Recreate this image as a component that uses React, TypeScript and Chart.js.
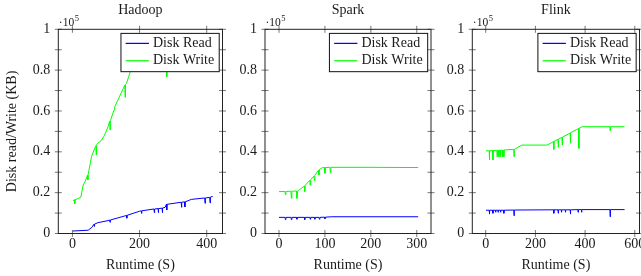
import React, { useEffect, useRef } from 'react';
import { Chart, registerables } from 'chart.js';

Chart.register(...registerables);

// ---------------- data (values in units of 10^5 KB) ----------------
const panelTitles = ['Hadoop', 'Spark', 'Flink'];
const seriesLabels = ['Disk Read', 'Disk Write'];
const yAxisTitle = 'Disk read/Write (KB)';
const xAxisTitle = 'Runtime (S)';
const yExponentBase = '·10';
const yExponentPower = '5';

const yTickValues = [0, 0.2, 0.4, 0.6, 0.8, 1];
const yTickLabels = ['0', '0.2', '0.4', '0.6', '0.8', '1'];
const yMinorTickValues = [0.1, 0.3, 0.5, 0.7, 0.9];

const hadoopXTickValues = [0, 200, 400];
const hadoopXTickLabels = ['0', '200', '400'];
const sparkXTickValues = [0, 100, 200, 300];
const sparkXTickLabels = ['0', '100', '200', '300'];
const flinkXTickValues = [0, 200, 400, 600];
const flinkXTickLabels = ['0', '200', '400', '600'];

// [runtime (s), value]
const hadoopRead: [number, number][] = [
  [0, 0.012], [47, 0.016], [58, 0.03], [64, 0.045], [65, 0.035], [66, 0.046], [76, 0.053],
  [106, 0.063], [111, 0.066], [112, 0.055], [113, 0.066], [156, 0.086], [161, 0.088], [162, 0.075],
  [163, 0.089], [200, 0.109], [205, 0.111], [206, 0.098], [207, 0.111], [243, 0.12], [244, 0.102],
  [245, 0.12], [255, 0.122], [256, 0.102], [257, 0.122], [267, 0.124], [268, 0.102], [269, 0.125],
  [276, 0.128], [280, 0.143], [281, 0.115], [282, 0.143], [324, 0.153], [325, 0.128], [326, 0.153],
  [334, 0.155], [335, 0.13], [336, 0.155], [354, 0.167], [394, 0.174], [395, 0.148], [396, 0.174],
  [409, 0.177], [410, 0.15], [411, 0.178], [418, 0.182],
];
const hadoopWrite: [number, number][] = [
  [2, 0.16], [6, 0.165], [7, 0.145], [8, 0.166], [15, 0.17], [25, 0.177], [32, 0.237], [38, 0.255],
  [45, 0.286], [46, 0.262], [47, 0.29], [57, 0.376], [67, 0.42], [70, 0.43], [71, 0.384], [72, 0.432],
  [74, 0.44], [86, 0.455], [96, 0.482], [106, 0.523], [111, 0.55], [112, 0.507], [113, 0.552],
  [124, 0.605], [126, 0.62], [141, 0.673], [156, 0.727], [157, 0.667], [158, 0.729], [161, 0.735],
  [174, 0.8], [190, 0.86], [210, 0.9], [250, 0.91], [280, 0.92], [281, 0.768], [282, 0.92],
  [330, 0.93], [380, 0.94], [420, 0.95],
];

const sparkRead: [number, number][] = [
  [0, 0.079], [13, 0.079], [14, 0.068], [15, 0.079], [26, 0.079], [27, 0.068], [28, 0.079],
  [38, 0.079], [39, 0.07], [40, 0.079], [55, 0.079], [56, 0.068], [57, 0.079], [67, 0.079],
  [68, 0.07], [69, 0.079], [77, 0.079], [78, 0.07], [79, 0.079], [87, 0.079], [88, 0.07],
  [89, 0.079], [99, 0.08], [100, 0.072], [101, 0.08], [115, 0.082], [303, 0.082],
];
const sparkWrite: [number, number][] = [
  [0, 0.205], [13, 0.206], [14, 0.19], [15, 0.206], [26, 0.207], [27, 0.172], [28, 0.207],
  [38, 0.208], [39, 0.172], [40, 0.208], [42, 0.21], [55, 0.232], [56, 0.205], [57, 0.236],
  [67, 0.26], [68, 0.237], [69, 0.264], [76, 0.281], [77, 0.259], [78, 0.285], [86, 0.31],
  [87, 0.286], [88, 0.313], [94, 0.322], [99, 0.323], [100, 0.295], [101, 0.323], [111, 0.324],
  [112, 0.298], [113, 0.324], [200, 0.324], [303, 0.323],
];

const flinkRead: [number, number][] = [
  [1, 0.114], [14, 0.114], [15, 0.095], [16, 0.114], [28, 0.114], [29, 0.099], [30, 0.114],
  [39, 0.114], [40, 0.104], [41, 0.114], [49, 0.114], [50, 0.104], [51, 0.114], [59, 0.114],
  [60, 0.104], [61, 0.114], [72, 0.114], [73, 0.099], [74, 0.114], [113, 0.115], [114, 0.087],
  [115, 0.115], [273, 0.116], [274, 0.099], [275, 0.116], [291, 0.116], [292, 0.099], [293, 0.116],
  [304, 0.116], [305, 0.104], [306, 0.116], [320, 0.116], [321, 0.104], [322, 0.116], [340, 0.116],
  [341, 0.095], [342, 0.116], [371, 0.117], [372, 0.104], [373, 0.117], [385, 0.117], [386, 0.104],
  [387, 0.117], [500, 0.117], [501, 0.082], [502, 0.117], [559, 0.117],
];
const flinkWrite: [number, number][] = [
  [1, 0.405], [14, 0.405], [15, 0.36], [16, 0.405], [28, 0.406], [29, 0.36], [30, 0.406],
  [45, 0.407], [46, 0.376], [47, 0.407], [52, 0.407], [53, 0.376], [54, 0.407], [59, 0.408],
  [60, 0.376], [61, 0.408], [66, 0.408], [67, 0.376], [68, 0.408], [72, 0.408], [73, 0.376],
  [74, 0.409], [113, 0.412], [114, 0.376], [115, 0.412], [146, 0.433], [247, 0.433], [273, 0.45],
  [274, 0.412], [275, 0.451], [291, 0.461], [292, 0.422], [293, 0.462], [307, 0.471], [308, 0.433],
  [309, 0.472], [340, 0.492], [341, 0.442], [342, 0.493], [374, 0.514], [375, 0.417], [376, 0.515],
  [388, 0.523], [500, 0.523], [501, 0.503], [502, 0.523], [559, 0.523],
];

// ---------------- layout / style ----------------
const W = 641;
const H = 276;
const FONT = '"Liberation Serif", "Times New Roman", serif';
const TEXT_COLOR = '#1a1a1a';
const READ_COLOR = '#0000ff';
const WRITE_COLOR = '#00ff00';
const PLOT_TOP = 29.3;
const PLOT_BOTTOM = 233.5;
const Y_AXIS_W = 50;
const X_AXIS_H = H - PLOT_BOTTOM;

const panels = [
  { title: panelTitles[0], read: hadoopRead, write: hadoopWrite, left: 58.3, right: 222.5, xMin: -42, xMax: 447, xTicks: hadoopXTickValues, xLabels: hadoopXTickLabels, yTitle: true },
  { title: panelTitles[1], read: sparkRead, write: sparkWrite, left: 265, right: 431, xMin: -30.5, xMax: 331, xTicks: sparkXTickValues, xLabels: sparkXTickLabels, yTitle: false },
  { title: panelTitles[2], read: flinkRead, write: flinkWrite, left: 472.3, right: 639.5, xMin: -54, xMax: 619, xTicks: flinkXTickValues, xLabels: flinkXTickLabels, yTitle: false },
];

type Panel = typeof panels[number];

function decorPlugin(p: Panel) {
  return {
    id: 'decor',
    afterDraw(chart: any) {
      const ctx: CanvasRenderingContext2D = chart.ctx;
      const a = chart.chartArea;
      const xs = chart.scales.x;
      const ys = chart.scales.y;
      const tk = 3.5;
      ctx.save();
      // tick marks
      ctx.strokeStyle = '#666';
      ctx.lineWidth = 0.9;
      ctx.beginPath();
      for (const v of [...yTickValues, ...yMinorTickValues]) {
        const y = ys.getPixelForValue(v);
        ctx.moveTo(a.left - tk, y); ctx.lineTo(a.left + tk, y);
        ctx.moveTo(a.right - tk, y); ctx.lineTo(a.right + tk, y);
      }
      for (const v of p.xTicks) {
        const x = xs.getPixelForValue(v);
        if (x > a.right + 0.5) continue;
        ctx.moveTo(x, a.top - tk); ctx.lineTo(x, a.top + tk);
        ctx.moveTo(x, a.bottom - tk); ctx.lineTo(x, a.bottom + tk);
      }
      ctx.stroke();
      // frame
      ctx.strokeStyle = '#222';
      ctx.lineWidth = 1;
      ctx.strokeRect(a.left, a.top, a.right - a.left, a.bottom - a.top);

      ctx.fillStyle = TEXT_COLOR;
      // title
      ctx.font = `14px ${FONT}`;
      ctx.textAlign = 'center';
      ctx.textBaseline = 'alphabetic';
      ctx.fillText(p.title, (a.left + a.right) / 2, 14);
      // exponent
      ctx.textAlign = 'left';
      ctx.font = `11.5px ${FONT}`;
      ctx.fillText(yExponentBase, a.left + 0.5, 25.5);
      const ew = ctx.measureText(yExponentBase).width;
      ctx.font = `8.5px ${FONT}`;
      ctx.fillText(yExponentPower, a.left + 1 + ew, 20.5);
      // x title
      ctx.font = `14px ${FONT}`;
      ctx.textAlign = 'center';
      ctx.textBaseline = 'middle';
      ctx.fillText(xAxisTitle, (a.left + a.right) / 2, 265);
      // y title
      if (p.yTitle) {
        ctx.save();
        ctx.translate(12, (a.top + a.bottom) / 2);
        ctx.rotate(-Math.PI / 2);
        ctx.fillText(yAxisTitle, 0, 0);
        ctx.restore();
      }
      // legend
      ctx.font = `14px ${FONT}`;
      const tw = Math.max(...seriesLabels.map((l) => ctx.measureText(l).width));
      const bw = tw + 37;
      const bh = 38.3;
      const bx = a.right - 0.02 * (a.right - a.left) - bw;
      const by = a.top + 0.02 * (a.bottom - a.top);
      ctx.fillStyle = '#fff';
      ctx.fillRect(bx, by, bw, bh);
      ctx.strokeStyle = '#111';
      ctx.lineWidth = 1;
      ctx.strokeRect(bx, by, bw, bh);
      chart.data.datasets.forEach((ds: any, i: number) => {
        const cy = by + 10 + i * 17.4;
        ctx.strokeStyle = ds.borderColor;
        ctx.lineWidth = 1.2;
        ctx.beginPath();
        ctx.moveTo(bx + 4.7, cy);
        ctx.lineTo(bx + 28, cy);
        ctx.stroke();
        ctx.fillStyle = TEXT_COLOR;
        ctx.textAlign = 'left';
        ctx.textBaseline = 'middle';
        ctx.fillText(ds.label, bx + 32, cy);
      });
      ctx.restore();
    },
  };
}

function PanelChart({ p }: { p: Panel }) {
  const ref = useRef<HTMLCanvasElement | null>(null);
  useEffect(() => {
    if (!ref.current) return;
    const chart = new Chart(ref.current, {
      type: 'line',
      data: {
        datasets: [
          {
            label: seriesLabels[0],
            data: p.read.map(([x, y]) => ({ x, y })),
            borderColor: READ_COLOR,
            backgroundColor: READ_COLOR,
            borderWidth: 1,
            pointRadius: 0,
            tension: 0,
          },
          {
            label: seriesLabels[1],
            data: p.write.map(([x, y]) => ({ x, y })),
            borderColor: WRITE_COLOR,
            backgroundColor: WRITE_COLOR,
            borderWidth: 1,
            pointRadius: 0,
            tension: 0,
          },
        ],
      },
      options: {
        responsive: false,
        animation: false,
        devicePixelRatio: 1,
        layout: {
          padding: { left: p.left - Y_AXIS_W, right: W - p.right, top: PLOT_TOP, bottom: 0 },
        },
        plugins: { legend: { display: false }, title: { display: false }, tooltip: { enabled: false } },
        events: [],
        scales: {
          x: {
            type: 'linear',
            min: p.xMin,
            max: p.xMax,
            grid: { display: false, drawTicks: false },
            border: { display: false },
            afterBuildTicks: (s: any) => { s.ticks = p.xTicks.map((v) => ({ value: v })); },
            afterFit: (s: any) => { s.height = X_AXIS_H; s.paddingLeft = 0; s.paddingRight = 0; },
            ticks: {
              padding: 2,
              autoSkip: false,
              maxRotation: 0,
              color: TEXT_COLOR,
              font: { family: FONT, size: 14 },
              callback: (v: any) => { const i = p.xTicks.indexOf(Number(v)); return i >= 0 ? p.xLabels[i] : ''; },
            },
          },
          y: {
            type: 'linear',
            min: 0,
            max: 1,
            grid: { display: false, drawTicks: false },
            border: { display: false },
            afterBuildTicks: (s: any) => { s.ticks = yTickValues.map((v) => ({ value: v })); },
            afterFit: (s: any) => { s.width = Y_AXIS_W; s.paddingTop = 0; s.paddingBottom = 0; },
            ticks: {
              padding: 8,
              color: TEXT_COLOR,
              font: { family: FONT, size: 14 },
              callback: (v: any) => { const i = yTickValues.indexOf(Number(v)); return i >= 0 ? yTickLabels[i] : ''; },
            },
          },
        },
      } as any,
      plugins: [decorPlugin(p)],
    });
    return () => chart.destroy();
  }, [p]);
  return (
    <canvas
      ref={ref}
      width={W}
      height={H}
      style={{ position: 'absolute', left: 0, top: 0, width: W, height: H }}
    />
  );
}

export default function App() {
  useEffect(() => {
    document.body.style.margin = '0';
    document.body.style.background = '#fff';
  }, []);
  return (
    <div style={{ position: 'relative', width: W, height: H, background: '#fff', overflow: 'hidden' }}>
      {panels.map((p) => (
        <PanelChart key={p.title} p={p} />
      ))}
    </div>
  );
}
